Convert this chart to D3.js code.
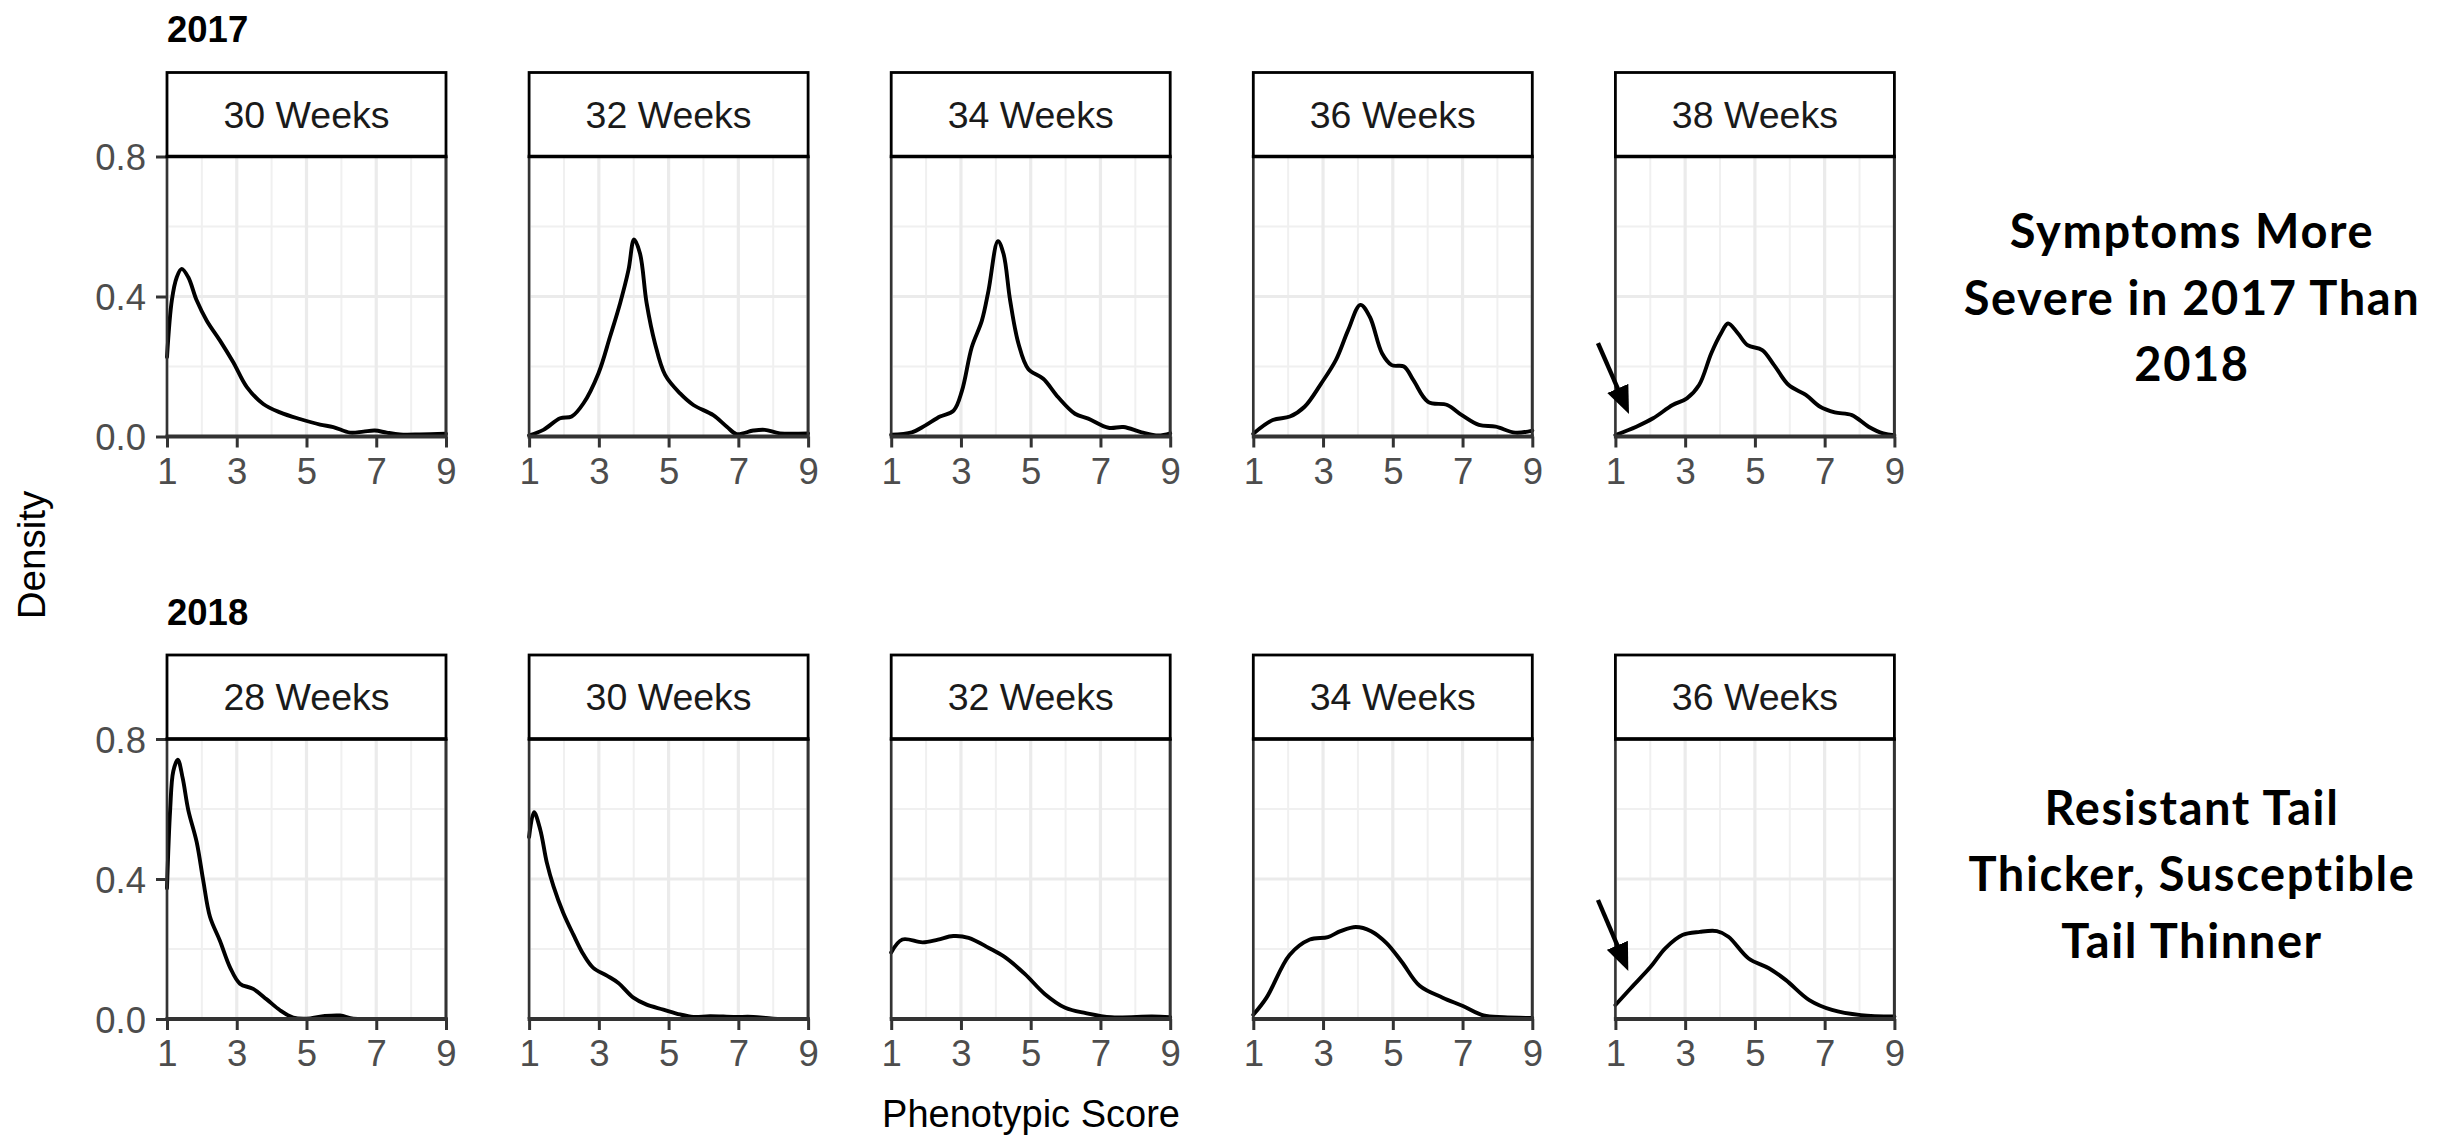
<!DOCTYPE html>
<html>
<head>
<meta charset="utf-8">
<script src="https://cdn.jsdelivr.net/npm/d3@7"></script>
<style>
  html, body { margin: 0; padding: 0; background: #ffffff; }
  svg { display: block; }
</style>
</head>
<body>
<svg id="chart" width="2454" height="1135"></svg>
<script>
// Row (year) titles and facet strip labels
const rowYears = ["2017", "2018"];
const weeks2017 = ["30 Weeks", "32 Weeks", "34 Weeks", "36 Weeks", "38 Weeks"];
const weeks2018 = ["28 Weeks", "30 Weeks", "32 Weeks", "34 Weeks", "36 Weeks"];

// Axis ticks
const scoreTicks = [1, 3, 5, 7, 9];
const scoreMinor = [2, 4, 6, 8];
const densityTicks = [0, 0.4, 0.8];
const densityMinor = [0.2, 0.6];

// Kernel density estimates, [phenotypic score, density]
const dens2017w30 = [[1.0,0.227],[1.14,0.39],[1.28,0.455],[1.42,0.479],[1.61,0.455],[1.85,0.389],[2.14,0.331],[2.52,0.274],[2.90,0.212],[3.29,0.141],[3.76,0.093],[4.24,0.069],[4.81,0.050],[5.39,0.034],[5.77,0.027],[6.25,0.011],[6.63,0.014],[6.96,0.017],[7.30,0.011],[7.68,0.006],[8.25,0.006],[9.0,0.008]];
const dens2017w32 = [[1.0,0.003],[1.41,0.019],[1.89,0.052],[2.22,0.057],[2.56,0.095],[2.99,0.181],[3.32,0.285],[3.61,0.381],[3.85,0.476],[4.01,0.563],[4.18,0.523],[4.37,0.381],[4.61,0.266],[4.90,0.176],[5.33,0.123],[5.71,0.090],[6.28,0.061],[6.67,0.028],[6.95,0.007],[7.43,0.017],[7.76,0.019],[8.19,0.009],[9.0,0.009]];
const dens2017w34 = [[1.0,0.005],[1.59,0.012],[1.97,0.031],[2.40,0.057],[2.79,0.074],[3.03,0.131],[3.31,0.255],[3.60,0.331],[3.79,0.417],[4.06,0.558],[4.22,0.522],[4.41,0.389],[4.65,0.265],[4.93,0.193],[5.36,0.165],[5.79,0.112],[6.27,0.065],[6.65,0.051],[7.23,0.025],[7.66,0.027],[8.18,0.012],[8.66,0.003],[9.0,0.009]];
const dens2017w36 = [[1.0,0.008],[1.56,0.047],[2.05,0.057],[2.47,0.085],[2.95,0.152],[3.37,0.219],[3.72,0.304],[4.07,0.376],[4.34,0.342],[4.69,0.238],[4.97,0.204],[5.32,0.200],[5.59,0.161],[6.01,0.099],[6.56,0.090],[6.98,0.061],[7.47,0.033],[7.95,0.028],[8.51,0.011],[9.0,0.017]];
const dens2017w38 = [[1.0,0.004],[1.60,0.028],[2.08,0.052],[2.64,0.090],[3.05,0.109],[3.40,0.147],[3.75,0.238],[4.03,0.295],[4.23,0.323],[4.51,0.295],[4.79,0.261],[5.21,0.247],[5.55,0.204],[5.97,0.147],[6.46,0.119],[6.87,0.085],[7.29,0.069],[7.78,0.061],[8.26,0.028],[8.68,0.009],[9.0,0.004]];
const dens2018w28 = [[1.0,0.374],[1.09,0.597],[1.18,0.708],[1.31,0.741],[1.45,0.688],[1.61,0.597],[1.85,0.506],[2.04,0.395],[2.23,0.293],[2.52,0.223],[2.81,0.147],[3.09,0.101],[3.47,0.086],[3.86,0.056],[4.24,0.025],[4.62,0.004],[5.0,0.001],[5.48,0.008],[5.96,0.010],[6.34,0.001],[7.0,0.0],[9.0,0.0]];
const dens2018w30 = [[1.0,0.52],[1.14,0.591],[1.32,0.541],[1.51,0.446],[1.70,0.379],[1.98,0.303],[2.27,0.241],[2.56,0.184],[2.84,0.146],[3.23,0.124],[3.56,0.103],[3.99,0.061],[4.37,0.041],[4.85,0.027],[5.33,0.013],[5.71,0.006],[6.19,0.008],[6.86,0.006],[7.43,0.006],[8.0,0.001],[9.0,0.0]];
const dens2018w32 = [[1.0,0.190],[1.32,0.227],[1.90,0.219],[2.34,0.227],[2.78,0.237],[3.22,0.232],[3.80,0.203],[4.24,0.178],[4.83,0.129],[5.41,0.071],[5.99,0.032],[6.58,0.017],[7.31,0.005],[8.48,0.007],[9.0,0.005]];
const dens2018w34 = [[1.0,0.012],[1.38,0.061],[2.04,0.183],[2.62,0.227],[3.14,0.234],[3.50,0.251],[3.94,0.263],[4.38,0.251],[4.82,0.217],[5.26,0.163],[5.77,0.095],[6.43,0.061],[7.01,0.037],[7.60,0.010],[8.18,0.005],[9.0,0.003]];
const dens2018w36 = [[1.0,0.040],[1.44,0.088],[2.01,0.149],[2.43,0.202],[2.92,0.240],[3.42,0.249],[3.91,0.251],[4.24,0.235],[4.82,0.173],[5.40,0.145],[5.89,0.111],[6.56,0.054],[7.21,0.026],[8.04,0.011],[9.0,0.007]];

// Arrows in the last column, [score, density] from tail to head
const arrow2017 = [[0.50, 0.267], [1.39, 0.064]];
const arrow2018 = [[0.50, 0.340], [1.37, 0.137]];

// Side notes for each row
const note2017 = ["Symptoms More", "Severe in 2017 Than", "2018"];
const note2018 = ["Resistant Tail", "Thicker, Susceptible", "Tail Thinner"];

const rows = [
  { year: rowYears[0], labels: weeks2017, curves: [dens2017w30, dens2017w32, dens2017w34, dens2017w36, dens2017w38], arrow: arrow2017, note: note2017 },
  { year: rowYears[1], labels: weeks2018, curves: [dens2018w28, dens2018w30, dens2018w32, dens2018w34, dens2018w36], arrow: arrow2018, note: note2018 }
];

// Layout
const colLeft0 = 167, colStep = 362.1, panelW = 279;
const rowOffset = 582.5;
const panelTop0 = 156.5, panelH = 280, stripH = 84;
const sansFont = "'Liberation Sans', Arial, Helvetica, sans-serif";
const noteFont = "Lato, 'Open Sans', sans-serif";

const svg = d3.select("#chart");

svg.append("defs").append("marker")
  .attr("id", "arrowhead")
  .attr("viewBox", "0 0 28 23")
  .attr("refX", 28).attr("refY", 11.5)
  .attr("markerWidth", 28).attr("markerHeight", 23)
  .attr("markerUnits", "userSpaceOnUse")
  .attr("orient", "auto")
  .append("path")
  .attr("d", "M0,0 L28,11.5 L0,23 Z")
  .attr("fill", "#000");

rows.forEach((row, ri) => {
  const top = panelTop0 + ri * rowOffset;
  const bottom = top + panelH;

  // Row title
  svg.append("text")
    .attr("x", colLeft0).attr("y", 42 + ri * rowOffset)
    .attr("font-family", sansFont).attr("font-weight", "bold")
    .attr("font-size", 36.5).attr("fill", "#000")
    .text(row.year);

  row.curves.forEach((curve, ci) => {
    const left = colLeft0 + ci * colStep;
    const x = d3.scaleLinear().domain([1, 9]).range([left, left + panelW]);
    const y = d3.scaleLinear().domain([0, 0.8]).range([bottom, top]);
    const g = svg.append("g");

    // Grid
    g.selectAll(".vminor").data(scoreMinor).join("line")
      .attr("x1", d => x(d)).attr("x2", d => x(d)).attr("y1", top).attr("y2", bottom)
      .attr("stroke", "#f0f0f0").attr("stroke-width", 2);
    g.selectAll(".hminor").data(densityMinor).join("line")
      .attr("y1", d => y(d)).attr("y2", d => y(d)).attr("x1", left).attr("x2", left + panelW)
      .attr("stroke", "#f0f0f0").attr("stroke-width", 2);
    g.selectAll(".vmajor").data(scoreTicks).join("line")
      .attr("x1", d => x(d)).attr("x2", d => x(d)).attr("y1", top).attr("y2", bottom)
      .attr("stroke", "#ebebeb").attr("stroke-width", 3.2);
    g.selectAll(".hmajor").data(densityTicks).join("line")
      .attr("y1", d => y(d)).attr("y2", d => y(d)).attr("x1", left).attr("x2", left + panelW)
      .attr("stroke", "#ebebeb").attr("stroke-width", 3.2);

    // Density curve
    const line = d3.line()
      .x(d => x(d[0])).y(d => y(d[1]))
      .curve(d3.curveCatmullRom.alpha(0.5));
    g.append("path").datum(curve)
      .attr("d", line)
      .attr("fill", "none").attr("stroke", "#000")
      .attr("stroke-width", 3.9).attr("stroke-linejoin", "round").attr("stroke-linecap", "round");

    // Panel sides
    g.append("line").attr("x1", left).attr("x2", left).attr("y1", top).attr("y2", bottom)
      .attr("stroke", "#333").attr("stroke-width", 2.6);
    g.append("line").attr("x1", left + panelW).attr("x2", left + panelW).attr("y1", top).attr("y2", bottom)
      .attr("stroke", "#333").attr("stroke-width", 3);

    // x axis
    const xAxis = d3.axisBottom(x).tickValues(scoreTicks).tickFormat(d3.format("d"))
      .tickSize(11).tickPadding(10).tickSizeOuter(0);
    const xa = g.append("g").attr("transform", `translate(0,${bottom})`).call(xAxis);
    xa.select(".domain").attr("stroke", "#333").attr("stroke-width", 4)
      .attr("d", `M${left - 1.5},0H${left + panelW + 1.5}`);
    xa.selectAll(".tick line").attr("stroke", "#333").attr("stroke-width", 3);
    xa.selectAll(".tick text").attr("font-family", sansFont).attr("font-size", 36.5)
      .attr("fill", "#4d4d4d").attr("dy", "0.72em");

    // y axis on the first column only
    if (ci === 0) {
      const yAxis = d3.axisLeft(y).tickValues(densityTicks).tickFormat(d3.format(".1f"))
        .tickSize(11).tickPadding(10).tickSizeOuter(0);
      const ya = g.append("g").attr("transform", `translate(${left},0)`).call(yAxis);
      ya.select(".domain").remove();
      ya.selectAll(".tick line").attr("stroke", "#333").attr("stroke-width", 3);
      ya.selectAll(".tick text").attr("font-family", sansFont).attr("font-size", 36.5)
        .attr("fill", "#4d4d4d").attr("dy", "0.36em");
    }

    // Facet strip
    g.append("rect")
      .attr("x", left).attr("y", top - stripH).attr("width", panelW).attr("height", stripH)
      .attr("fill", "#fff").attr("stroke", "#000").attr("stroke-width", 2.8);
    g.append("line").attr("x1", left - 1.4).attr("x2", left + panelW + 1.4).attr("y1", top).attr("y2", top)
      .attr("stroke", "#000").attr("stroke-width", 3.6);
    g.append("text")
      .attr("x", left + panelW / 2).attr("y", top - stripH / 2 + 13)
      .attr("text-anchor", "middle")
      .attr("font-family", sansFont).attr("font-size", 37.5).attr("fill", "#1a1a1a")
      .text(row.labels[ci]);

    // Arrow in the last column
    if (ci === row.curves.length - 1) {
      const [p0, p1] = row.arrow;
      const x0 = x(p0[0]), y0 = y(p0[1]), x1 = x(p1[0]), y1 = y(p1[1]);
      const len = Math.hypot(x1 - x0, y1 - y0);
      const ux = (x1 - x0) / len, uy = (y1 - y0) / len;
      g.append("line")
        .attr("x1", x0).attr("y1", y0)
        .attr("x2", x1 - ux * 14).attr("y2", y1 - uy * 14)
        .attr("stroke", "#000").attr("stroke-width", 4.4);
      g.append("line")
        .attr("x1", x1 - ux * 28).attr("y1", y1 - uy * 28)
        .attr("x2", x1).attr("y2", y1)
        .attr("stroke", "none")
        .attr("marker-end", "url(#arrowhead)");
    }
  });

  // Side note
  const noteY = [248, 314.5, 381].map(v => v + ri * 576.5);
  svg.append("text")
    .attr("text-anchor", "middle")
    .attr("font-family", noteFont).attr("font-weight", "bold")
    .attr("font-size", 47).attr("letter-spacing", 1.6).attr("fill", "#000")
    .selectAll("tspan").data(row.note).join("tspan")
    .attr("x", 2192).attr("y", (d, i) => noteY[i])
    .text(d => d);
});

// Axis titles
svg.append("text")
  .attr("transform", "translate(45,555) rotate(-90)")
  .attr("text-anchor", "middle")
  .attr("font-family", sansFont).attr("font-size", 38.5).attr("fill", "#000")
  .text("Density");

svg.append("text")
  .attr("x", 1031).attr("y", 1127)
  .attr("text-anchor", "middle")
  .attr("font-family", sansFont).attr("font-size", 38).attr("fill", "#000")
  .text("Phenotypic Score");
</script>
</body>
</html>
